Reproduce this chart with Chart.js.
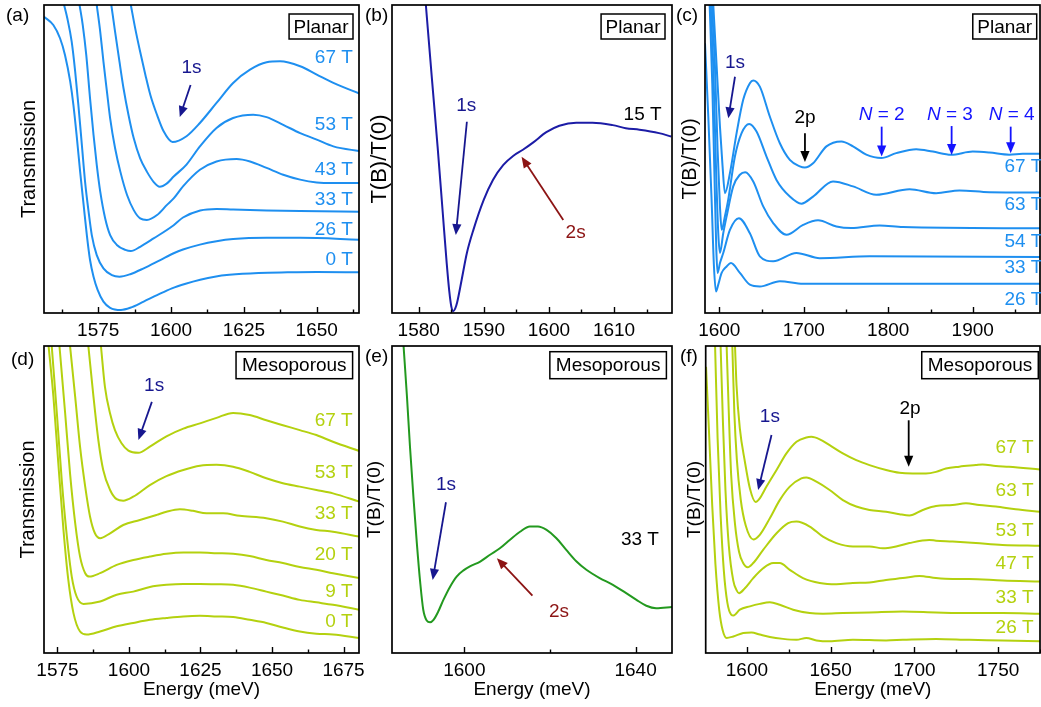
<!DOCTYPE html>
<html><head><meta charset="utf-8">
<script src="https://cdn.jsdelivr.net/npm/chart.js@4.4.1/dist/chart.umd.min.js"></script>
<style>
html,body{margin:0;padding:0;background:#fff;}
#fig{position:relative;width:1041px;height:707px;overflow:hidden;background:#fff;}
#fig canvas{position:absolute;}
</style></head><body>
<div id="fig">
<canvas id="pa" width="372" height="341" style="left:0px;top:0px"></canvas>
<canvas id="pb" width="313" height="341" style="left:362px;top:0px"></canvas>
<canvas id="pc" width="366" height="341" style="left:675px;top:0px"></canvas>
<canvas id="pd" width="372" height="366" style="left:0px;top:341px"></canvas>
<canvas id="pe" width="313" height="366" style="left:362px;top:341px"></canvas>
<canvas id="pf" width="366" height="366" style="left:675px;top:341px"></canvas>
</div>
<script>
// ---------- tick values (meV) ----------
const aMajor = [1575, 1600, 1625, 1650];
const aMinor = [1562.5, 1587.5, 1612.5, 1637.5, 1662.5];
const bMajor = [1580, 1590, 1600, 1610];
const bMinor = [1585, 1595, 1605, 1615];
const cMajor = [1600, 1700, 1800, 1900];
const cMinor = [1650, 1750, 1850, 1950];
const dMajor = [1575, 1600, 1625, 1650, 1675];
const dMinor = [1587.5, 1612.5, 1637.5, 1662.5];
const eMajor = [1600, 1640];
const eMinor = [1620];
const fMajor = [1600, 1650, 1700, 1750];
const fMinor = [1625, 1675, 1725, 1775];

// ---------- panel (a) planar, transmission [energy meV, transmission arb.] ----------
const a_0T = [[1556.4,96.2],[1559.6,93.5],[1561.9,89.2],[1563.6,83.8],[1565.4,75.1],[1566.5,67.5],[1567.7,56.7],[1568.8,45.9],[1570.0,35.1],[1571.1,25.3],[1572.2,17.2],[1573.4,11.8],[1574.8,7.5],[1576.8,3.7],[1579.1,1.7],[1582.8,1.0],[1586.0,1.7],[1590.6,3.7],[1595.2,5.8],[1600.3,8.0],[1605,9.5],[1610,10.8],[1615,11.8],[1620,12.4],[1630,13.0],[1640,13.2],[1650,13.3],[1665,13.2]];
const a_26T = [[1563.3,100],[1564.4,95.7],[1565.9,88.1],[1567.1,78.4],[1568.2,67.5],[1569.4,54.5],[1570.5,42.6],[1571.7,32.9],[1572.8,25.3],[1574.5,18.8],[1576.8,14.5],[1579.7,12.3],[1582.3,11.8],[1586.0,12.6],[1590.6,14.5],[1596.3,17.2],[1600.9,19.4],[1604.1,20.6],[1609.9,22.2],[1615.6,23.3],[1621.3,24.0],[1632.8,24.4],[1644.3,24.4],[1665,23.8]];
const a_33T = [[1568.6,100],[1569.7,93.5],[1570.9,83.8],[1572.2,69.7],[1573.4,57.8],[1574.5,48.1],[1575.7,39.4],[1577.4,30.7],[1579.1,25.3],[1581.4,22.1],[1584.3,20.5],[1586.2,20.1],[1589.4,21.5],[1594.0,24.2],[1600.9,28.5],[1604.1,31.0],[1610,33.3],[1615.6,33.8],[1621.3,33.6],[1632.8,33.3],[1644.3,33.1],[1665,32.9]];
const a_43T = [[1574.5,100],[1575.7,91.3],[1576.8,81.6],[1578.0,71.9],[1579.1,63.2],[1580.8,53.5],[1582.6,45.9],[1584.9,38.3],[1587.2,33.4],[1589.4,30.7],[1591.7,30.2],[1595.2,31.8],[1598.6,35.1],[1600.9,37.2],[1604.1,41.1],[1609.9,46.5],[1615.6,49.2],[1622.5,50.0],[1627.1,49.2],[1632.8,47.1],[1638.5,44.9],[1644.3,43.3],[1650,42.4],[1655.7,42.2],[1665,42.2]];
const a_53T = [[1579.5,100],[1580.8,91.3],[1582.3,81.6],[1583.7,72.9],[1585.4,64.3],[1587.2,56.7],[1589.4,50.2],[1591.7,45.9],[1594.0,42.6],[1596.1,41.0],[1598.6,42.1],[1600.9,44.3],[1605.3,48.2],[1609.9,54.1],[1615.6,60.1],[1621.3,63.3],[1628.2,64.4],[1632.8,63.6],[1638.5,61.1],[1644.3,58.4],[1650,56.3],[1655.7,54.1],[1665,52.5]];
const a_67T = [[1586.2,100],[1587.7,92.4],[1589.4,84.8],[1591.2,77.3],[1592.9,70.8],[1595.2,64.3],[1597.5,58.9],[1600.5,55.5],[1605.3,57.4],[1609.9,61.7],[1615.6,68.2],[1621.3,74.7],[1627.1,79.0],[1632.8,81.4],[1637.4,81.7],[1644.3,80.1],[1650,77.4],[1655.7,74.7],[1665,71.1]];

// ---------- panel (b) planar, 15 T, T(B)/T(0) ----------
const b_15T = [[1581.1,100],[1582.0,76.8],[1582.9,54.1],[1583.7,32.4],[1584.3,16.2],[1584.7,7.0],[1585.0,2.2],[1585.3,0.6],[1585.6,1.4],[1585.9,3.4],[1586.6,10.8],[1587.4,19.5],[1588.4,27.0],[1590.0,36.8],[1591.4,43.2],[1593.0,48.1],[1594.5,51.0],[1596.0,53.0],[1597.6,55.4],[1599.6,58.7],[1601.6,60.8],[1604.2,61.8],[1606.7,61.8],[1609.8,61.0],[1611.8,60.0],[1613.9,59.5],[1616.9,58.4],[1618.8,57.3]];

// ---------- panel (c) planar, T(B)/T(0) ----------
const c_26T = [[1583.1,87.6],[1587.0,63.8],[1590.9,36.8],[1593.7,15.1],[1596.1,7.0],[1598.8,9.2],[1602.8,13.0],[1608.7,15.1],[1613.8,16.2],[1624.4,13.0],[1636.2,9.2],[1648.0,8.6],[1671.7,10.3],[1699.2,9.5],[1980,9.5]];
const c_33T = [[1588.6,100],[1591.7,74.6],[1594.5,42.2],[1596.5,20.5],[1598.0,13.0],[1600.8,16.2],[1604.7,19.5],[1612.6,27.0],[1623.2,30.8],[1636.2,25.9],[1648.0,18.4],[1663.8,16.8],[1691.3,19.5],[1718.9,17.8],[1778.0,18.4],[1980,18.2]];
const c_54T = [[1589.8,100],[1592.9,80.0],[1596.1,47.6],[1598.8,25.9],[1600.8,19.5],[1604.7,25.9],[1608.7,31.4],[1616.5,41.1],[1624.4,44.9],[1630.7,45.7],[1640.2,42.7],[1652.0,34.6],[1663.8,29.2],[1679.5,25.4],[1699.2,28.6],[1716.9,30.1],[1738.6,28.1],[1756.3,27.6],[1789.8,28.4],[1817.3,27.9],[1980,27.5]];
const c_63T = [[1591.3,100],[1594.9,80.0],[1598.0,53.0],[1600.8,34.6],[1602.8,27.0],[1606.7,31.4],[1610.6,36.8],[1618.5,50.8],[1626.4,58.4],[1635.4,61.4],[1644.1,58.9],[1655.9,50.8],[1667.7,43.2],[1683.5,37.8],[1697.2,35.5],[1711.0,37.8],[1734.6,42.7],[1758.3,41.1],[1785.8,38.4],[1825.2,40.2],[1856.7,38.9],[1884.3,39.8],[1919.7,39.2],[1980,39.1]];
const c_67T = [[1592.9,100],[1596.9,80.0],[1600.8,60.5],[1603.9,47.6],[1606.7,38.9],[1612.6,45.4],[1620.5,58.4],[1628.3,69.2],[1636.2,74.6],[1640.2,75.5],[1648.0,73.5],[1659.8,63.8],[1671.7,55.1],[1683.5,49.7],[1695.3,47.6],[1701.2,47.2],[1711.0,48.6],[1726.8,54.1],[1744.5,55.7],[1758.3,54.1],[1774.0,51.4],[1791.7,50.3],[1809.4,51.9],[1833.1,53.2],[1852.8,52.4],[1874.4,51.4],[1900.0,52.4],[1919.7,52.1],[1943.3,51.4],[1959.1,51.7],[1980,51.7]];

// ---------- panel (d) mesoporous, transmission ----------
const d_0T = [[1571.9,100],[1573.6,83.4],[1575.3,61.8],[1577.1,40.1],[1578.8,23.8],[1580.6,13.0],[1582.9,7.0],[1585.2,6.0],[1589.9,7.0],[1595.7,8.7],[1601.5,9.8],[1607.3,10.8],[1613.1,11.4],[1619.0,11.9],[1624.8,12.1],[1630.6,11.9],[1636.4,11.7],[1642.2,10.8],[1648.0,9.8],[1653.8,8.3],[1659.7,7.0],[1665.5,6.3],[1671.3,6.0],[1680.5,4.9]];
const d_9T = [[1573.0,100],[1574.8,78.0],[1576.5,56.3],[1578.3,37.9],[1580.0,24.9],[1581.7,18.4],[1584.1,16.0],[1589.9,16.8],[1595.7,19.0],[1601.5,20.0],[1607.3,21.5],[1613.1,22.2],[1619.0,22.5],[1624.8,22.5],[1630.6,22.4],[1636.4,22.2],[1642.2,21.3],[1648.0,20.0],[1653.8,18.7],[1659.7,17.3],[1665.5,16.5],[1671.3,15.7],[1680.5,14.1]];
const d_20T = [[1575.7,100],[1577.7,78.0],[1579.4,58.5],[1581.2,42.3],[1582.9,31.4],[1584.7,26.0],[1586.2,24.9],[1589.9,26.0],[1595.7,28.7],[1601.5,30.3],[1607.3,31.4],[1613.1,32.3],[1619.0,32.7],[1624.8,32.7],[1630.6,32.5],[1636.4,32.3],[1642.2,31.6],[1648.0,30.3],[1653.8,29.3],[1659.7,28.0],[1665.5,27.1],[1671.3,26.0],[1680.5,24.4]];
const d_33T = [[1579.4,100],[1581.2,83.4],[1582.9,67.2],[1584.7,54.2],[1586.4,44.4],[1588.1,39.0],[1589.9,37.4],[1593.4,39.0],[1598.0,41.7],[1603.8,43.3],[1609.7,45.0],[1613.1,46.0],[1617.8,46.8],[1622.4,46.3],[1627.1,45.5],[1632.9,45.5],[1638.7,44.7],[1648.0,43.9],[1653.8,42.8],[1659.7,41.2],[1665.5,40.1],[1671.3,39.5],[1680.5,37.9]];
const d_53T = [[1585.8,100],[1587.6,83.4],[1589.3,69.3],[1591.0,59.6],[1593.4,53.1],[1595.7,50.1],[1598.0,49.6],[1601.5,50.9],[1607.3,54.7],[1613.1,57.6],[1619.0,59.6],[1624.8,61.0],[1630.6,61.3],[1636.4,60.7],[1642.2,59.0],[1648.0,56.9],[1653.8,55.3],[1659.7,54.2],[1665.5,53.1],[1671.3,52.0],[1680.5,49.3]];
const d_67T = [[1590.2,100],[1591.6,86.7],[1593.4,78.0],[1595.1,72.6],[1597.4,68.3],[1599.8,65.9],[1603.3,65.2],[1607.3,67.2],[1613.1,70.6],[1619.0,73.1],[1624.8,74.8],[1630.6,76.6],[1636.4,78.2],[1642.2,77.5],[1648.0,75.8],[1653.8,74.2],[1659.7,72.6],[1665.5,71.0],[1671.3,68.8],[1680.5,65.8]];

// ---------- panel (e) mesoporous, 33 T, T(B)/T(0) ----------
const e_33T = [[1585.8,100],[1586.6,83.4],[1587.3,67.2],[1588.1,50.9],[1588.9,35.8],[1589.7,22.8],[1590.4,14.1],[1591.2,10.6],[1592.0,10.0],[1592.8,10.8],[1593.9,13.5],[1595.1,17.3],[1596.7,21.7],[1598.2,24.9],[1599.8,26.9],[1601.3,28.2],[1603.7,29.8],[1606.0,32.0],[1608.3,34.1],[1610.6,36.8],[1613.0,39.5],[1615.3,41.2],[1617.2,41.2],[1619.2,40.1],[1621.5,37.4],[1623.8,33.6],[1626.2,29.8],[1628.5,27.1],[1631.6,24.4],[1634.7,22.2],[1637.8,19.5],[1640.2,17.3],[1642.5,15.4],[1644.8,14.6],[1648.5,15.0]];

// ---------- panel (f) mesoporous, T(B)/T(0) ----------
const f_26T = [[1575.6,93.2],[1577.3,73.0],[1579.3,48.0],[1581.2,29.0],[1583.5,14.0],[1585.5,7.5],[1587.9,4.9],[1591.9,5.4],[1597.8,6.5],[1602.8,6.7],[1607.7,6.0],[1613.7,5.2],[1621.6,4.6],[1629.6,4.3],[1635.5,4.9],[1641.5,4.1],[1649.4,3.8],[1663.3,4.3],[1683.1,4.1],[1693.1,4.3],[1712.9,4.6],[1732.7,4.3],[1752.6,4.1],[1775,3.8]];
const f_33T = [[1581.0,100],[1582.5,70.0],[1584.3,45.0],[1586.2,27.0],[1588.3,16.5],[1590.6,12.5],[1592.0,12.2],[1595.8,14.1],[1601.8,15.2],[1607.7,16.0],[1613.7,16.5],[1619.6,15.7],[1627.6,14.1],[1637.5,13.0],[1645.4,12.8],[1657.3,13.0],[1673.2,13.2],[1693.1,13.5],[1712.9,13.2],[1732.7,13.0],[1752.6,13.0],[1775,12.8]];
const f_47T = [[1584.3,100],[1585.7,75.0],[1587.2,53.0],[1589.2,35.0],[1591.9,23.5],[1593.8,20.5],[1595.3,19.5],[1598.8,21.1],[1603.8,24.4],[1609.7,27.6],[1615.7,29.3],[1619.6,29.3],[1625.6,27.1],[1633.5,24.4],[1643.5,22.8],[1653.4,22.4],[1663.3,22.8],[1673.2,23.0],[1683.1,23.8],[1693.1,24.4],[1703.0,25.1],[1712.9,24.4],[1722.8,24.1],[1732.7,24.1],[1752.6,23.6],[1775,23.3]];
const f_53T = [[1587.9,100],[1589.2,78.2],[1590.6,58.0],[1592.9,42.0],[1595.3,33.0],[1597.6,29.5],[1600.5,27.9],[1603.8,29.3],[1609.7,33.6],[1617.7,39.0],[1624.6,42.3],[1629.6,42.8],[1637.5,41.2],[1645.4,37.9],[1653.4,35.8],[1663.3,34.7],[1673.2,34.7],[1681.2,34.1],[1689.1,34.7],[1697.0,35.8],[1708.9,36.8],[1712.9,36.6],[1722.8,36.3],[1736.7,35.8],[1752.6,35.2],[1775,34.9]];
const f_63T = [[1591.3,100],[1592.5,78.3],[1594.0,63.0],[1596.3,50.0],[1599.3,41.5],[1603.8,37.0],[1607.7,38.5],[1613.7,43.9],[1619.6,49.8],[1625.6,54.2],[1632.5,56.9],[1635.5,57.2],[1641.5,55.8],[1649.4,53.1],[1657.3,49.8],[1665.3,47.7],[1673.2,46.6],[1683.1,46.0],[1691.1,45.2],[1697.0,44.8],[1705.0,46.6],[1712.9,47.9],[1722.8,48.2],[1730.8,48.8],[1738.7,48.2],[1748.6,47.7],[1760.5,46.8],[1775,46.0]];
const f_67T = [[1592.9,100],[1593.8,87.2],[1595.8,73.1],[1598.8,62.3],[1601.8,53.6],[1605.2,49.2],[1607.7,50.4],[1611.7,54.2],[1617.7,59.6],[1623.6,65.0],[1629.6,68.8],[1635.5,70.2],[1638.5,70.4],[1643.5,69.6],[1649.4,67.7],[1657.3,65.0],[1665.3,62.8],[1673.2,61.2],[1683.1,59.6],[1691.1,58.7],[1699.0,58.5],[1706.9,58.5],[1712.9,59.0],[1718.8,60.1],[1726.8,60.7],[1736.7,61.2],[1740.7,61.4],[1748.6,60.9],[1756.5,60.7],[1775,59.8]];

// ---------- styling ----------
const FONT = '"Liberation Sans", Arial, Helvetica, sans-serif';
const FS = 19;
const C_BLUE = '#1e8ff0', C_NAVYLINE = '#1c1ca6', C_GREEN = '#23991f', C_YG = '#b4d10f';
const C_1S = '#17178f', C_2S = '#8c1414', C_N = '#1414ff', C_K = '#000000';

function fnt(italic) { return (italic ? 'italic ' : '') + FS + 'px ' + FONT; }
function drawParts(ctx, parts, x, y, align, color) {
  let w = 0;
  parts.forEach(p => { ctx.font = fnt(p.i); w += ctx.measureText(p.t).width; });
  let sx = align === 'right' ? x - w : (align === 'left' ? x : x - w / 2);
  ctx.fillStyle = color; ctx.textBaseline = 'middle'; ctx.textAlign = 'left';
  parts.forEach(p => { ctx.font = fnt(p.i); ctx.fillText(p.t, sx, y); sx += ctx.measureText(p.t).width; });
}
function arrow(ctx, x1, y1, x2, y2, color) {
  const ang = Math.atan2(y2 - y1, x2 - x1), L = 11, W = 4.6;
  const bx = x2 - L * Math.cos(ang), by = y2 - L * Math.sin(ang);
  ctx.strokeStyle = color; ctx.fillStyle = color; ctx.lineWidth = 1.8;
  ctx.beginPath(); ctx.moveTo(x1, y1); ctx.lineTo(bx + 2 * Math.cos(ang), by + 2 * Math.sin(ang)); ctx.stroke();
  ctx.beginPath(); ctx.moveTo(x2, y2);
  ctx.lineTo(bx + W * Math.sin(ang), by - W * Math.cos(ang));
  ctx.lineTo(bx - W * Math.sin(ang), by + W * Math.cos(ang));
  ctx.closePath(); ctx.fill();
}

const decor = {
  id: 'decor',
  afterDatasetsDraw(chart, args, o) {
    const ctx = chart.ctx, ca = chart.chartArea;
    const xs = chart.scales.x, ys = chart.scales.y;
    const X = e => xs.getPixelForValue(e), Y = v => ys.getPixelForValue(v);
    ctx.save();
    ctx.strokeStyle = '#000'; ctx.lineWidth = 1.4;
    xs.ticks.forEach(t => {
      const px = Math.round(X(t.value)) + 0.5;
      const len = t.label ? 6 : 3.5;
      ctx.beginPath(); ctx.moveTo(px, ca.bottom); ctx.lineTo(px, ca.bottom - len); ctx.stroke();
    });
    ctx.lineWidth = 1.7; ctx.strokeStyle = '#000';
    ctx.strokeRect(ca.left, ca.top, ca.right - ca.left, ca.bottom - ca.top);
    if (o.box) {
      ctx.font = fnt(false);
      const w = ctx.measureText(o.box.t).width + 2 * o.box.px;
      const h = o.box.h;
      const bx = ca.right - o.box.r - w, by = ca.top + o.box.top;
      ctx.fillStyle = '#fff'; ctx.fillRect(bx, by, w, h);
      ctx.lineWidth = 1.5; ctx.strokeStyle = '#000'; ctx.strokeRect(bx, by, w, h);
      drawParts(ctx, [{ t: o.box.t }], bx + w / 2, by + h / 2 + 1, 'center', '#000');
    }
    (o.arrows || []).forEach(a => arrow(ctx, X(a[0]), Y(a[1]), X(a[2]), Y(a[3]), a[4]));
    (o.texts || []).forEach(t => drawParts(ctx, t.p, X(t.e), Y(t.v), t.a || 'center', t.c));
    if (o.panel) drawParts(ctx, [{ t: o.panel.t }], o.panel.x, o.panel.y, 'left', '#000');
    ctx.restore();
  }
};

function makePanel(id, c) {
  const ticks = c.majors.concat(c.minors).sort((p, q) => p - q);
  new Chart(document.getElementById(id), {
    type: 'line',
    data: {
      datasets: c.series.map(s => ({
        data: s[0].map(p => ({ x: p[0], y: p[1] })),
        borderColor: s[1], borderWidth: 2, pointRadius: 0, fill: false,
        cubicInterpolationMode: 'monotone'
      }))
    },
    options: {
      responsive: false, animation: false, devicePixelRatio: 1,
      layout: { padding: { left: 0, right: c.padRight, top: c.padTop, bottom: 0 } },
      plugins: { legend: { display: false }, tooltip: { enabled: false }, decor: c.decor },
      events: [],
      scales: {
        x: {
          type: 'linear', position: 'bottom', min: c.xMin, max: c.xMax, bounds: 'data',
          afterBuildTicks: s => { s.ticks = ticks.map(v => ({ value: v })); },
          afterFit: s => { s.height = c.xH; s.paddingLeft = 0; s.paddingRight = 0; },
          grid: { display: false, drawTicks: false }, border: { display: false },
          ticks: { padding: 6, color: '#000', font: { family: FONT, size: FS }, maxRotation: 0, minRotation: 0, autoSkip: false,
            callback: v => c.majors.includes(v) ? String(v) : '' },
          title: { display: !!c.xTitle, text: 'Energy (meV)', color: '#000', font: { family: FONT, size: FS }, padding: { top: 0, bottom: 6 } }
        },
        y: {
          type: 'linear', min: 0, max: 100,
          afterFit: s => { s.width = c.yWidth; },
          grid: { display: false, drawTicks: false }, border: { display: false },
          ticks: { display: false },
          title: { display: true, text: c.yTitle, color: '#000', font: { family: FONT, size: c.yFs }, padding: { top: c.yPad, bottom: 0 } }
        }
      }
    },
    plugins: [decor]
  });
}

const lbl = (t, e, v, c, a) => ({ p: [{ t }], e, v, c, a });
const nlbl = (n, e, v) => ({ p: [{ t: 'N', i: true }, { t: ' = ' + n }], e, v, c: C_N });

makePanel('pa', {
  xMin: 1556.4, xMax: 1664.5, majors: aMajor, minors: aMinor,
  series: [[a_0T, C_BLUE], [a_26T, C_BLUE], [a_33T, C_BLUE], [a_43T, C_BLUE], [a_53T, C_BLUE], [a_67T, C_BLUE]],
  yTitle: 'Transmission', yFs: 20, yPad: 17, yWidth: 44, padRight: 13, padTop: 5, xH: 28, xTitle: false,
  decor: {
    panel: { t: '(a)', x: 6, y: 16 },
    box: { t: 'Planar', px: 4.5, h: 25, r: 6, top: 9 },
    arrows: [[1606.7, 74.0, 1603.0, 63.6, C_1S]],
    texts: [lbl('1s', 1607.0, 79.5, C_1S),
      lbl('67 T', 1662.4, 82.8, C_BLUE, 'right'), lbl('53 T', 1662.4, 61.0, C_BLUE, 'right'),
      lbl('43 T', 1662.4, 46.4, C_BLUE, 'right'), lbl('33 T', 1662.4, 36.7, C_BLUE, 'right'),
      lbl('26 T', 1662.4, 26.9, C_BLUE, 'right'), lbl('0 T', 1662.4, 17.2, C_BLUE, 'right')]
  }
});
makePanel('pb', {
  xMin: 1575.9, xMax: 1618.9, majors: bMajor, minors: bMinor,
  series: [[b_15T, C_NAVYLINE]],
  yTitle: 'T(B)/T(0)', yFs: 22, yPad: 4.8, yWidth: 30, padRight: 3, padTop: 5, xH: 28, xTitle: false,
  decor: {
    panel: { t: '(b)', x: 3, y: 16 },
    box: { t: 'Planar', px: 4.5, h: 25, r: 7, top: 9 },
    arrows: [[1587.4, 62.1, 1585.7, 25.3, C_1S], [1602.2, 30.2, 1595.8, 50.7, C_2S]],
    texts: [lbl('1s', 1587.3, 67.2, C_1S), lbl('2s', 1604.1, 26.0, C_2S), lbl('15 T', 1617.3, 64.3, C_K, 'right')]
  }
});
makePanel('pc', {
  xMin: 1583.1, xMax: 1979.6, majors: cMajor, minors: cMinor,
  series: [[c_26T, C_BLUE], [c_33T, C_BLUE], [c_54T, C_BLUE], [c_63T, C_BLUE], [c_67T, C_BLUE]],
  yTitle: 'T(B)/T(0)', yFs: 20, yPad: 3.7, yWidth: 30, padRight: 1, padTop: 5, xH: 28, xTitle: false,
  decor: {
    panel: { t: '(c)', x: 1, y: 16 },
    box: { t: 'Planar', px: 4.5, h: 25, r: 3.3, top: 9 },
    arrows: [[1618.6, 76.7, 1610.7, 63.2, C_1S], [1701.4, 58.4, 1701.4, 49.0, C_K],
      [1792.2, 60.5, 1792.2, 50.8, C_N], [1875.0, 60.7, 1875.0, 51.3, C_N], [1944.9, 60.5, 1944.9, 51.9, C_N]],
    texts: [lbl('1s', 1618.6, 81.2, C_1S), lbl('2p', 1701.4, 63.3, C_K),
      nlbl(2, 1792.2, 64.3), nlbl(3, 1873.0, 64.3), nlbl(4, 1946.0, 64.3),
      lbl('67 T', 1937.5, 47.4, C_BLUE, 'left'), lbl('63 T', 1937.5, 35.1, C_BLUE, 'left'),
      lbl('54 T', 1937.5, 23.1, C_BLUE, 'left'), lbl('33 T', 1937.5, 14.6, C_BLUE, 'left'),
      lbl('26 T', 1937.5, 4.2, C_BLUE, 'left')]
  }
});
makePanel('pd', {
  xMin: 1570.3, xMax: 1680.4, majors: dMajor, minors: dMinor,
  series: [[d_0T, C_YG], [d_9T, C_YG], [d_20T, C_YG], [d_33T, C_YG], [d_53T, C_YG], [d_67T, C_YG]],
  yTitle: 'Transmission', yFs: 20, yPad: 16.3, yWidth: 44, padRight: 13, padTop: 5, xH: 54, xTitle: true,
  decor: {
    panel: { t: '(d)', x: 11, y: 19 },
    box: { t: 'Mesoporous', px: 6, h: 27, r: 6.4, top: 5.7 },
    arrows: [[1608.0, 81.8, 1603.3, 69.4, C_1S]],
    texts: [lbl('1s', 1608.8, 87.2, C_1S),
      lbl('67 T', 1678.2, 75.6, C_YG, 'right'), lbl('53 T', 1678.2, 58.6, C_YG, 'right'),
      lbl('33 T', 1678.2, 45.3, C_YG, 'right'), lbl('20 T', 1678.2, 32.0, C_YG, 'right'),
      lbl('9 T', 1678.2, 20.0, C_YG, 'right'), lbl('0 T', 1678.2, 10.3, C_YG, 'right')]
  }
});
makePanel('pe', {
  xMin: 1583.1, xMax: 1648.5, majors: eMajor, minors: eMinor,
  series: [[e_33T, C_GREEN]],
  yTitle: 'T(B)/T(0)', yFs: 19, yPad: 1.6, yWidth: 30, padRight: 3, padTop: 5, xH: 54, xTitle: true,
  decor: {
    panel: { t: '(e)', x: 3, y: 16 },
    box: { t: 'Mesoporous', px: 6, h: 27, r: 5.6, top: 5.7 },
    arrows: [[1595.7, 49.1, 1592.6, 23.8, C_1S], [1615.9, 18.7, 1607.6, 30.9, C_2S]],
    texts: [lbl('1s', 1595.7, 54.7, C_1S), lbl('2s', 1622.1, 13.5, C_2S), lbl('33 T', 1641.0, 36.8, C_K)]
  }
});
makePanel('pf', {
  xMin: 1575.4, xMax: 1775, majors: fMajor, minors: fMinor,
  series: [[f_26T, C_YG], [f_33T, C_YG], [f_47T, C_YG], [f_53T, C_YG], [f_63T, C_YG], [f_67T, C_YG]],
  yTitle: 'T(B)/T(0)', yFs: 19, yPad: 8.6, yWidth: 30.7, padRight: 1, padTop: 5, xH: 54, xTitle: true,
  decor: {
    panel: { t: '(f)', x: 5, y: 16 },
    box: { t: 'Mesoporous', px: 6, h: 27, r: 1.7, top: 5.7 },
    arrows: [[1614.7, 71.0, 1606.7, 53.1, C_1S], [1696.6, 75.8, 1696.6, 60.7, C_K]],
    texts: [lbl('1s', 1613.7, 76.9, C_1S), lbl('2p', 1697.4, 79.7, C_K),
      lbl('67 T', 1748.5, 66.7, C_YG, 'left'), lbl('63 T', 1748.5, 52.8, C_YG, 'left'),
      lbl('53 T', 1748.5, 39.8, C_YG, 'left'), lbl('47 T', 1748.5, 29.0, C_YG, 'left'),
      lbl('33 T', 1748.5, 18.0, C_YG, 'left'), lbl('26 T', 1748.5, 8.2, C_YG, 'left')]
  }
});
</script>
</body></html>
